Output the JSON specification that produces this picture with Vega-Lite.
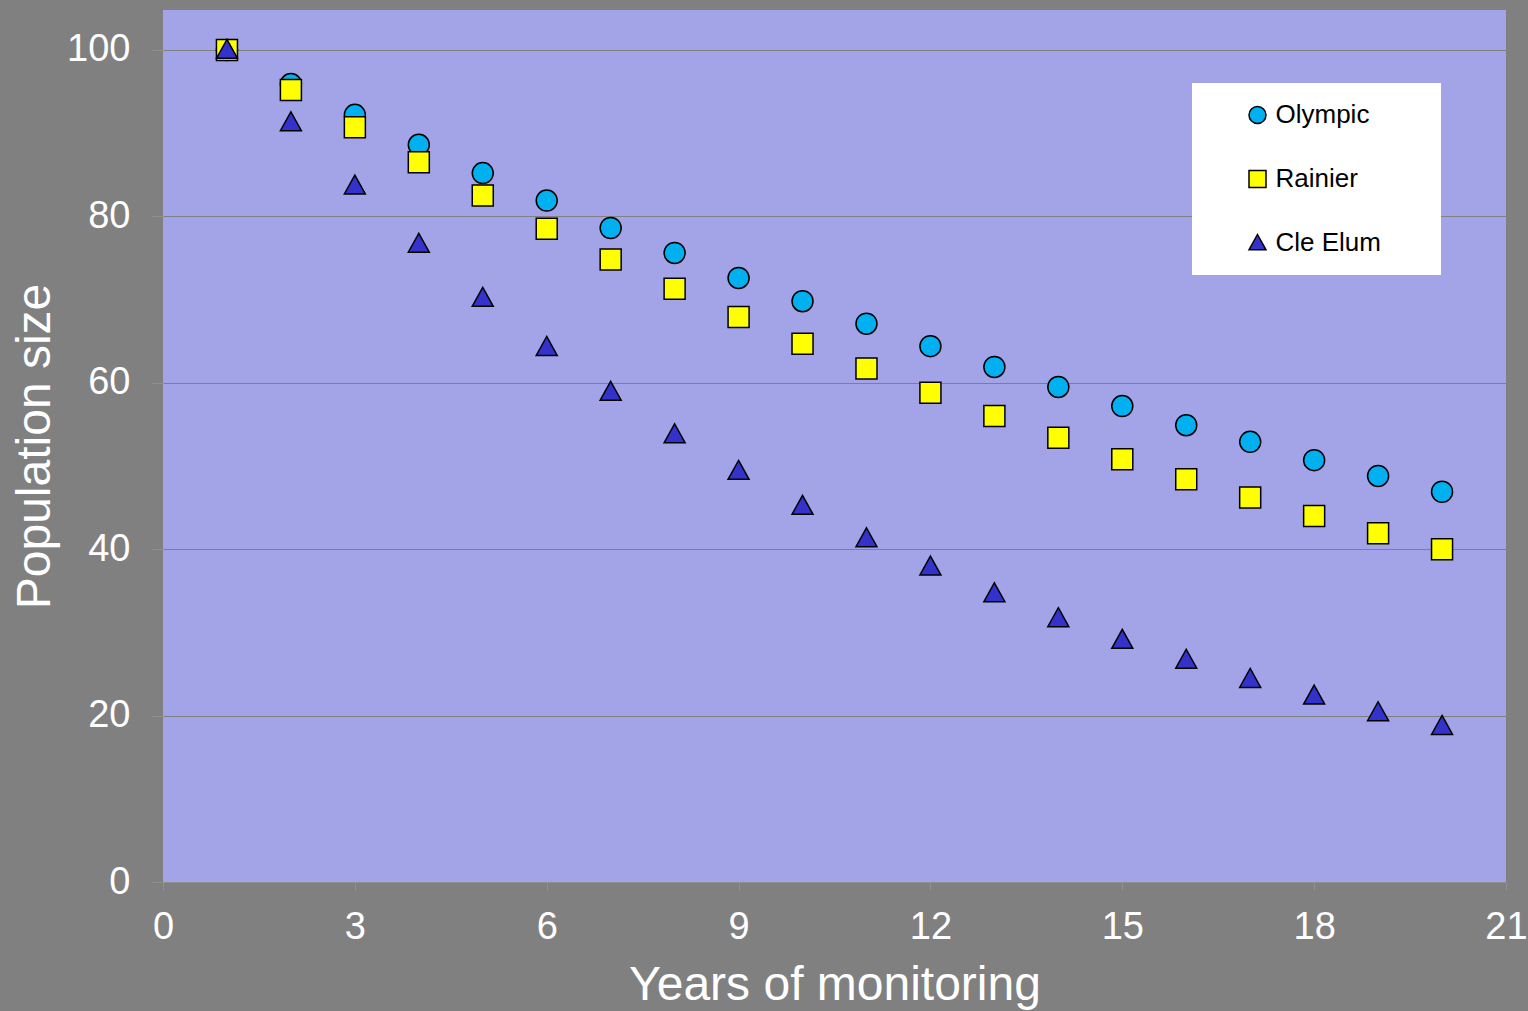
{
  "$schema": "https://vega.github.io/schema/vega-lite/v6.json",
  "width": 1343,
  "height": 872,
  "autosize": {"type": "none"},
  "padding": {"left": 163, "top": 10, "right": 22, "bottom": 129},
  "background": "#808080",
  "config": {
    "view": {"fill": "#A3A3E8", "stroke": null},
    "font": "Liberation Sans"
  },
  "data": {
    "values": [
      {"year": 1, "site": "Olympic", "pop": 100},
      {"year": 2, "site": "Olympic", "pop": 95.9},
      {"year": 3, "site": "Olympic", "pop": 92.2},
      {"year": 4, "site": "Olympic", "pop": 88.6},
      {"year": 5, "site": "Olympic", "pop": 85.2},
      {"year": 6, "site": "Olympic", "pop": 81.9},
      {"year": 7, "site": "Olympic", "pop": 78.6},
      {"year": 8, "site": "Olympic", "pop": 75.6},
      {"year": 9, "site": "Olympic", "pop": 72.6},
      {"year": 10, "site": "Olympic", "pop": 69.8},
      {"year": 11, "site": "Olympic", "pop": 67.1},
      {"year": 12, "site": "Olympic", "pop": 64.4},
      {"year": 13, "site": "Olympic", "pop": 61.9},
      {"year": 14, "site": "Olympic", "pop": 59.5},
      {"year": 15, "site": "Olympic", "pop": 57.2},
      {"year": 16, "site": "Olympic", "pop": 54.9},
      {"year": 17, "site": "Olympic", "pop": 52.9},
      {"year": 18, "site": "Olympic", "pop": 50.7},
      {"year": 19, "site": "Olympic", "pop": 48.8},
      {"year": 20, "site": "Olympic", "pop": 46.9},
      {"year": 1, "site": "Rainier", "pop": 100},
      {"year": 2, "site": "Rainier", "pop": 95.2},
      {"year": 3, "site": "Rainier", "pop": 90.7},
      {"year": 4, "site": "Rainier", "pop": 86.5},
      {"year": 5, "site": "Rainier", "pop": 82.5},
      {"year": 6, "site": "Rainier", "pop": 78.5},
      {"year": 7, "site": "Rainier", "pop": 74.8},
      {"year": 8, "site": "Rainier", "pop": 71.3},
      {"year": 9, "site": "Rainier", "pop": 67.9},
      {"year": 10, "site": "Rainier", "pop": 64.7},
      {"year": 11, "site": "Rainier", "pop": 61.7},
      {"year": 12, "site": "Rainier", "pop": 58.8},
      {"year": 13, "site": "Rainier", "pop": 56.0},
      {"year": 14, "site": "Rainier", "pop": 53.4},
      {"year": 15, "site": "Rainier", "pop": 50.8},
      {"year": 16, "site": "Rainier", "pop": 48.4},
      {"year": 17, "site": "Rainier", "pop": 46.2},
      {"year": 18, "site": "Rainier", "pop": 44.0},
      {"year": 19, "site": "Rainier", "pop": 41.9},
      {"year": 20, "site": "Rainier", "pop": 40.0},
      {"year": 1, "site": "Cle Elum", "pop": 100},
      {"year": 2, "site": "Cle Elum", "pop": 91.3},
      {"year": 3, "site": "Cle Elum", "pop": 83.7},
      {"year": 4, "site": "Cle Elum", "pop": 76.7},
      {"year": 5, "site": "Cle Elum", "pop": 70.2},
      {"year": 6, "site": "Cle Elum", "pop": 64.3},
      {"year": 7, "site": "Cle Elum", "pop": 58.9},
      {"year": 8, "site": "Cle Elum", "pop": 53.8},
      {"year": 9, "site": "Cle Elum", "pop": 49.4},
      {"year": 10, "site": "Cle Elum", "pop": 45.2},
      {"year": 11, "site": "Cle Elum", "pop": 41.3},
      {"year": 12, "site": "Cle Elum", "pop": 37.9},
      {"year": 13, "site": "Cle Elum", "pop": 34.7},
      {"year": 14, "site": "Cle Elum", "pop": 31.7},
      {"year": 15, "site": "Cle Elum", "pop": 29.1},
      {"year": 16, "site": "Cle Elum", "pop": 26.7},
      {"year": 17, "site": "Cle Elum", "pop": 24.4},
      {"year": 18, "site": "Cle Elum", "pop": 22.4},
      {"year": 19, "site": "Cle Elum", "pop": 20.4},
      {"year": 20, "site": "Cle Elum", "pop": 18.75}
    ]
  },
  "mark": {"type": "point", "filled": true, "size": 441, "stroke": "black", "strokeWidth": 1.5, "opacity": 1},
  "encoding": {
    "x": {
      "field": "year", "type": "quantitative",
      "scale": {"domain": [0, 21], "nice": false},
      "axis": {
        "title": "Years of monitoring",
        "values": [0, 3, 6, 9, 12, 15, 18, 21],
        "grid": false,
        "domain": true, "domainColor": "#909090", "domainWidth": 1,
        "ticks": true, "tickColor": "#909090", "tickSize": 8,
        "labelColor": "white", "labelFontSize": 38, "labelPadding": 18,
        "labelFlush": false, "labelOverlap": false,
        "labelFont": "Liberation Sans",
        "titleColor": "white", "titleFontSize": 48, "titleFontWeight": "normal",
        "titleFont": "Liberation Sans",
        "titleBaseline": "alphabetic", "titleY": 117
      }
    },
    "y": {
      "field": "pop", "type": "quantitative",
      "scale": {"domain": [0, 104.8], "nice": false},
      "axis": {
        "title": "Population size",
        "values": [0, 20, 40, 60, 80, 100],
        "grid": true, "gridColor": "#808080", "gridWidth": 1,
        "domain": false,
        "ticks": true, "tickColor": "#909090", "tickSize": 11,
        "labelColor": "white", "labelFontSize": 38, "labelPadding": 22,
        "labelFlush": false, "labelOverlap": false,
        "labelFont": "Liberation Sans",
        "titleColor": "white", "titleFontSize": 48, "titleFontWeight": "normal",
        "titleFont": "Liberation Sans",
        "titleAngle": -90, "titleBaseline": "alphabetic", "titleAlign": "center",
        "titleX": -114, "titleY": 436
      }
    },
    "color": {
      "field": "site", "type": "nominal",
      "scale": {"domain": ["Olympic", "Rainier", "Cle Elum"], "range": ["#00B0F0", "#FFFF00", "#3333CC"]},
      "legend": {
        "title": "site",
        "titleOpacity": 0,
        "titleOrient": "right",
        "titlePadding": 0,
        "titleFontSize": 26,
        "titleFontWeight": "normal",
        "titleFont": "Liberation Sans",
        "orient": "none",
        "legendX": 1029,
        "legendY": 73,
        "fillColor": "white",
        "padding": 19,
        "rowPadding": 38,
        "symbolSize": 289,
        "symbolStrokeColor": "black",
        "symbolStrokeWidth": 1.5,
        "symbolOffset": 33.5,
        "labelOffset": 5,
        "labelFont": "Liberation Sans",
        "labelFontSize": 26,
        "labelColor": "black"
      }
    },
    "shape": {
      "field": "site", "type": "nominal",
      "scale": {"domain": ["Olympic", "Rainier", "Cle Elum"], "range": ["circle", "square", "M0,-1L1,0.8L-1,0.8Z"]},
      "legend": null
    }
  }
}
